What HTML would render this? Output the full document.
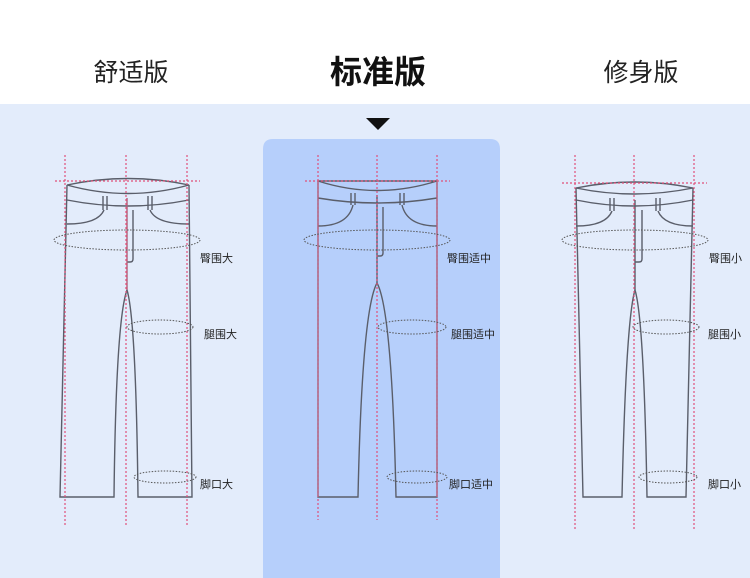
<!DOCTYPE html>
<html><head><meta charset="utf-8"><style>
html,body{margin:0;padding:0;width:750px;height:578px;overflow:hidden;background:#fff}
svg{display:block}
text{font-family:"Liberation Sans","Noto Sans CJK SC",sans-serif;fill:#222}
</style></head><body>
<svg width="750" height="578" viewBox="0 0 750 578">
<rect x="0" y="0" width="750" height="104" fill="#fff"/>
<rect x="0" y="104" width="750" height="474" fill="#e3ecfb"/>
<path d="M263 578 V149 Q263 139 273 139 H490 Q500 139 500 149 V578 Z" fill="#b6cffb"/>
<polygon points="366,118 390,118 378,130" fill="#111"/>
<text x="131" y="81" font-size="25" text-anchor="middle">舒适版</text>
<text x="378" y="83" font-size="32" font-weight="bold" text-anchor="middle" style="fill:#111">标准版</text>
<text x="641" y="81" font-size="25" text-anchor="middle">修身版</text>

<g fill="none" stroke="#5a5e6a" stroke-width="1.4">
<!-- LEFT -->
<path d="M67 185 Q128 172 189 185 Q128 202 67 185 Z"/>
<path d="M67 200 Q128 212 189 200"/>
<path d="M67 185 L60 497 H114 Q116 320 127 290 Q136 320 138 497 H192 L189 185"/>
<path d="M103 196 V210 M107 196 V210 M148 196 V210 M152 196 V210"/>
<path d="M104 210 Q98 224 67 224 M150 210 Q156 224 189 224"/>
<path d="M133 210 V259 Q133 262 130 262 H127"/>
<path d="M127 198 V290"/>
<!-- MIDDLE -->
<path d="M318 181 H437 M318 181 Q377 200 437 181 M318 198 Q377 208 437 198"/>
<path d="M318 181 V497 H358 Q362 310 377 283 Q392 310 396 497 H437 V181"/>
<path d="M351 193 V205 M355 193 V205 M400 193 V205 M404 193 V205"/>
<path d="M353 205 Q348 226 318 226 M402 205 Q407 226 437 226"/>
<path d="M383 207 V253 Q383 256 380 256 H377"/>
<path d="M377 195 V283"/>
<!-- RIGHT -->
<path d="M576 188 Q634 176 693 188 Q634 200 576 188 Z"/>
<path d="M576 200 Q634 212 693 200"/>
<path d="M576 188 L583 497 H622 Q626 320 635 290 Q644 320 647 497 H686 L693 188"/>
<path d="M610 198 V211 M614 198 V211 M656 198 V211 M660 198 V211"/>
<path d="M612 211 Q606 226 576 226 M658 211 Q664 226 693 226"/>
<path d="M642 210 V259 Q642 262 639 262 H635"/>
<path d="M635 200 V290"/>
</g>

<g fill="none" stroke="#e0507a" stroke-width="1.2" stroke-dasharray="2,2">
<path d="M65 155 V527 M126 155 V527 M187 155 V527 M55 181 H200"/>
<path d="M318 155 V520 M377 155 V520 M437 155 V520 M305 181 H450"/>
<path d="M575 155 V530 M634 155 V530 M694 155 V530 M562 183 H707"/>
</g>
<g fill="none" stroke="#d06080" stroke-width="1">
<path d="M127 198 V290 M318 181 V497 M437 181 V497"/>
</g>

<g fill="none" stroke="#555" stroke-width="1" stroke-dasharray="1.5,1.5">
<ellipse cx="127" cy="240" rx="73" ry="10"/>
<ellipse cx="160" cy="327" rx="33" ry="7"/>
<ellipse cx="165" cy="477" rx="31" ry="6"/>
<ellipse cx="377" cy="240" rx="73" ry="10"/>
<ellipse cx="412" cy="327" rx="34" ry="7"/>
<ellipse cx="417" cy="477" rx="30" ry="6"/>
<ellipse cx="635" cy="240" rx="73" ry="10"/>
<ellipse cx="666" cy="327" rx="33" ry="7"/>
<ellipse cx="668" cy="477" rx="29" ry="6"/>
</g>

<g font-size="11">
<text x="200" y="262">臀围大</text>
<text x="204" y="338">腿围大</text>
<text x="200" y="488">脚口大</text>
<text x="447" y="262">臀围适中</text>
<text x="451" y="338">腿围适中</text>
<text x="449" y="488">脚口适中</text>
<text x="709" y="262">臀围小</text>
<text x="708" y="338">腿围小</text>
<text x="708" y="488">脚口小</text>
</g>
</svg>
</body></html>
